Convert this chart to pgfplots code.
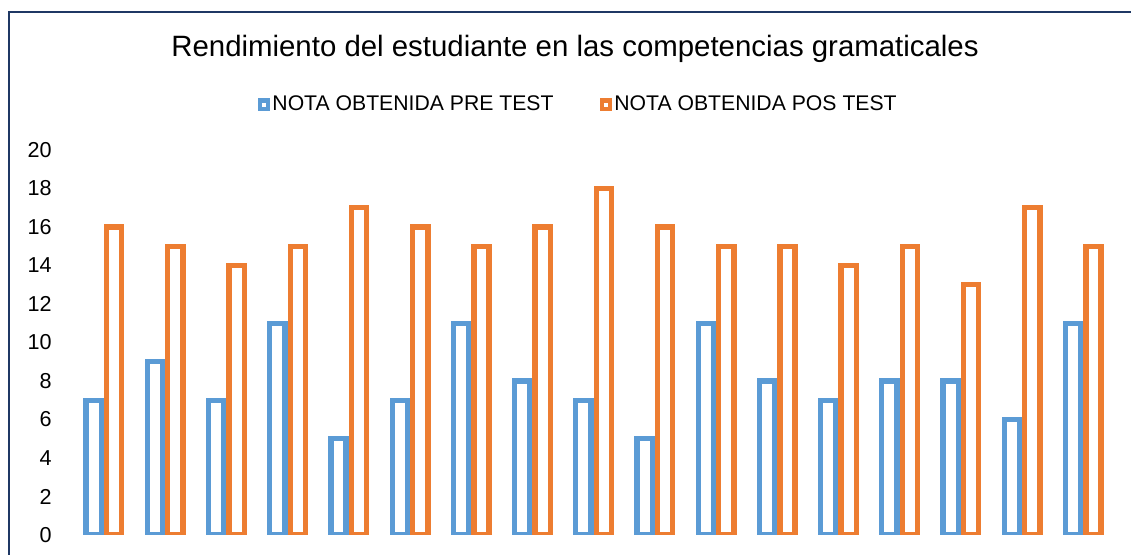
\documentclass[border=0pt]{standalone}
\usepackage{fontspec}
\setmainfont{Liberation Sans}
\usepackage{pgfplots}
\pgfplotsset{compat=1.18}
\definecolor{preblue}{RGB}{91,155,213}
\definecolor{posorange}{RGB}{237,125,49}
\definecolor{framenavy}{RGB}{31,56,100}

\begin{document}
\begin{tikzpicture}
\useasboundingbox (-36.7pt,-10pt) rectangle (528.8pt,267.5pt);
\begin{axis}[
    at={(0,0)}, anchor=south west,
    scale only axis,
    width=520.2pt, height=192.5pt,
    xmin=-0.5, xmax=16.5,
    ymin=0, ymax=20,
    ytick={0,2,...,20},
    xtick=\empty,
    axis line style={draw=none},
    tick style={draw=none},
    major tick length=0pt,
    /pgf/number format/assume math mode=true,
    yticklabel style={font=\fontsize{10.8}{13}\selectfont, anchor=east, inner sep=0pt, xshift=-10.7pt},
    ybar, bar width=7.6pt,
    every axis plot post/.append style={
        legend image code/.code={\draw[##1, line width=2.1pt, fill=white] (1.05pt,-2.05pt) rectangle (5.15pt,2.05pt);}
    },
    legend columns=2,
    legend style={
        at={(axis description cs:0.1771,1.118)}, anchor=west,
        draw=none, fill=none, inner sep=0pt, outer sep=0pt,
        nodes={inner sep=0pt},
        font=\fontsize{10.6}{13}\selectfont,
        /tikz/every odd column/.append style={column sep=1.2pt},
        /tikz/every even column/.append style={column sep=23pt}
    },
]
% pre test
\addplot[draw=preblue, fill=white, line width=2.65pt, bar shift=-5.125pt] coordinates {
    (0,7) (1,9) (2,7) (3,11) (4,5) (5,7) (6,11) (7,8) (8,7)
    (9,5) (10,11) (11,8) (12,7) (13,8) (14,8) (15,6) (16,11)
};
\addlegendentry{NOTA OBTENIDA PRE TEST}
% pos test
\addplot[draw=posorange, fill=white, line width=2.65pt, bar shift=5.125pt] coordinates {
    (0,16) (1,15) (2,14) (3,15) (4,17) (5,16) (6,15) (7,16) (8,18)
    (9,16) (10,15) (11,15) (12,14) (13,15) (14,13) (15,17) (16,15)
};
\addlegendentry{NOTA OBTENIDA POS TEST}
\end{axis}
\node[anchor=base, font=\fontsize{14.7}{17}\selectfont] at (250.8pt,239pt)
    {Rendimiento del estudiante en las competencias gramaticales};
\draw[framenavy, line width=1pt] (-32.35pt,-10pt) -- (-32.35pt,261.6pt) -- (528.8pt,261.6pt);
\end{tikzpicture}
\end{document}
